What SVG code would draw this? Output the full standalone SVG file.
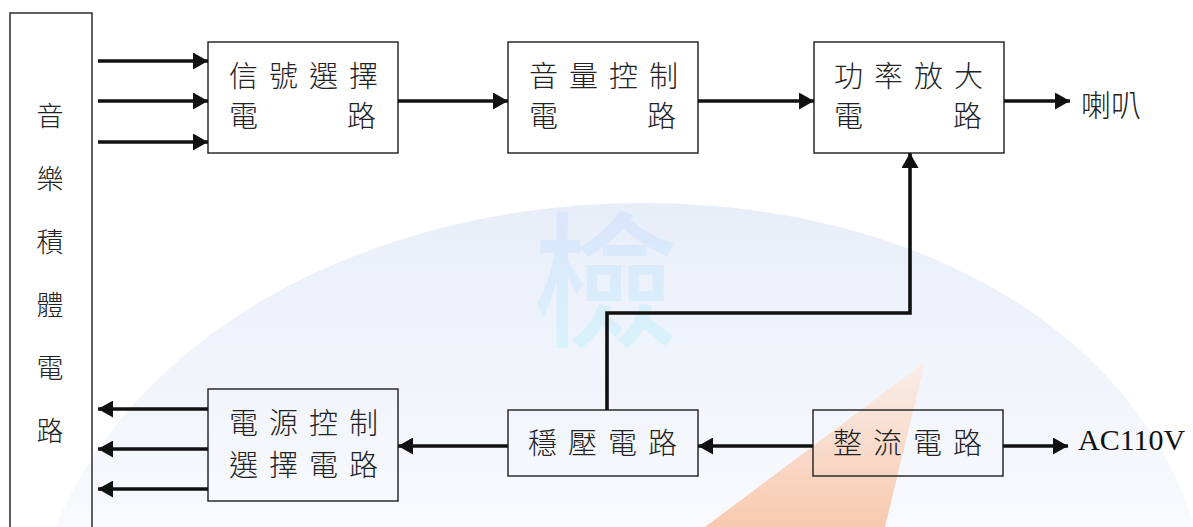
<svg xmlns="http://www.w3.org/2000/svg" width="1193" height="527" viewBox="0 0 1193 527">
<style>
.box{fill:none;stroke:#2b2b2b;stroke-width:1.5}
.t{font-family:"Noto Sans CJK TC","Noto Sans CJK SC",sans-serif;font-weight:300;font-size:29px;fill:#222;letter-spacing:11px}
.col{font-family:"Noto Sans CJK TC","Noto Sans CJK SC",sans-serif;font-weight:300;font-size:27px;fill:#222;text-anchor:middle}
.ln{fill:none;stroke:#111;stroke-width:3.6;marker-end:url(#ah)}
</style>
<defs>
<marker id="ah" markerUnits="userSpaceOnUse" markerWidth="16" markerHeight="17" refX="15" refY="8.5" orient="auto">
<path d="M0,0 L15,8.5 L0,17 z" fill="#111"/>
</marker>
<linearGradient id="dome" x1="0" y1="0" x2="0" y2="1">
<stop offset="0" stop-color="#e8eef9"/>
<stop offset="1" stop-color="#f8fafd"/>
</linearGradient>
<linearGradient id="kan" x1="0" y1="0" x2="0" y2="1">
<stop offset="0" stop-color="#dadefb"/>
<stop offset="1" stop-color="#d4f6fd"/>
</linearGradient>
<linearGradient id="tri" x1="0" y1="0" x2="0" y2="1">
<stop offset="0" stop-color="#fcece3"/>
<stop offset="1" stop-color="#f8b995"/>
</linearGradient>
</defs>
<rect width="1193" height="527" fill="#fff"/>
<g id="watermark">
<path d="M55,527 C240,95 1060,95 1195,527 Z" fill="url(#dome)"/>
<text x="605" y="335" font-family="Noto Sans CJK TC, sans-serif" font-weight="500" font-size="146" fill="url(#kan)" opacity="0.85" text-anchor="middle">檢</text>
<path d="M925,362 L705,527 L885,527 Z" fill="url(#tri)" opacity="0.75"/>
</g>
<g id="n-ic">
<rect class="box" x="10" y="13" width="82" height="530"/>
<text class="col" x="50" y="126">音</text>
<text class="col" x="50" y="189">樂</text>
<text class="col" x="50" y="252">積</text>
<text class="col" x="50" y="315">體</text>
<text class="col" x="50" y="378">電</text>
<text class="col" x="50" y="441">路</text>
</g>
<g id="n-signal">
<rect class="box" x="208" y="42" width="190" height="111"/>
<text class="t" x="229" y="87">信號選擇</text>
<text class="t" x="229" y="127">電</text>
<text class="t" x="347" y="127">路</text>
</g>
<g id="n-volume">
<rect class="box" x="508" y="42" width="190" height="111"/>
<text class="t" x="529" y="87">音量控制</text>
<text class="t" x="529" y="127">電</text>
<text class="t" x="647" y="127">路</text>
</g>
<g id="n-power-amp">
<rect class="box" x="814" y="42" width="190" height="111"/>
<text class="t" x="834" y="87">功率放大</text>
<text class="t" x="834" y="127">電</text>
<text class="t" x="953" y="127">路</text>
</g>
<g id="n-speaker">
<text x="1081" y="116" font-family="Noto Sans CJK TC, sans-serif" font-weight="300" font-size="30" fill="#222">喇叭</text>
</g>
<g id="n-psel">
<rect class="box" x="208" y="389" width="190" height="112"/>
<text class="t" x="229" y="434">電源控制</text>
<text class="t" x="229" y="476">選擇電路</text>
</g>
<g id="n-reg">
<rect class="box" x="508" y="410" width="190" height="66"/>
<text class="t" x="528" y="454">穩壓電路</text>
</g>
<g id="n-rect">
<rect class="box" x="813" y="410" width="190" height="66"/>
<text class="t" x="833" y="454">整流電路</text>
</g>
<g id="n-ac">
<text x="1078" y="450" font-family="Liberation Serif, serif" font-size="30" fill="#111">AC110V</text>
</g>
<g id="connectors">
<line class="ln" x1="98" y1="61" x2="208" y2="61"/>
<line class="ln" x1="98" y1="101" x2="208" y2="101"/>
<line class="ln" x1="98" y1="142" x2="208" y2="142"/>
<line class="ln" x1="398" y1="101" x2="508" y2="101"/>
<line class="ln" x1="698" y1="101" x2="814" y2="101"/>
<line class="ln" x1="1004" y1="101" x2="1070" y2="101"/>
<path class="ln" d="M607,410 V313 H910 V153"/>
<line class="ln" x1="813" y1="446" x2="698" y2="446"/>
<line class="ln" x1="508" y1="446" x2="398" y2="446"/>
<line class="ln" x1="208" y1="409" x2="98" y2="409"/>
<line class="ln" x1="208" y1="449" x2="98" y2="449"/>
<line class="ln" x1="208" y1="489" x2="98" y2="489"/>
<line class="ln" x1="1003" y1="446" x2="1068" y2="446"/>
</g>
</svg>
